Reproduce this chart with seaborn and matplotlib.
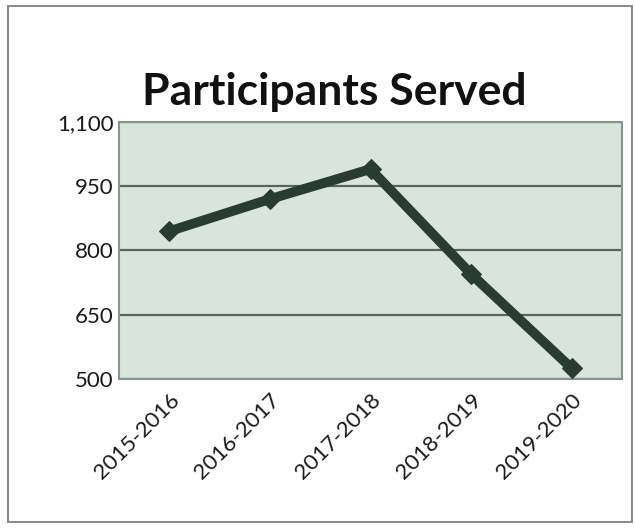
import matplotlib
matplotlib.use("Agg")
import matplotlib.pyplot as plt
import matplotlib.patches as mpatches
from matplotlib.ticker import FuncFormatter
import seaborn as sns
import pandas as pd

# Participants served per program year
years = ["2015-2016", "2016-2017", "2017-2018", "2018-2019", "2019-2020"]
participants = [845, 920, 990, 745, 525]
y_ticks = [500, 650, 800, 950, 1100]

df = pd.DataFrame({"year": years, "participants": participants})

sns.set_theme(style="white")
plt.rcParams["font.family"] = ["Lato", "DejaVu Sans"]

fig = plt.figure(figsize=(6.35, 5.29), dpi=100)
ax = fig.add_axes([119 / 635, 1 - 379 / 529, (622 - 119) / 635, (379 - 122) / 529])

ax.set_facecolor("#d7e5de")
sns.lineplot(data=df, x="year", y="participants", ax=ax, sort=False,
             color="#2a3b32", linewidth=7, marker="D", markersize=10,
             markeredgecolor="#2a3b32", zorder=3)

ax.set_xlim(-0.5, len(years) - 0.5)
ax.set_ylim(y_ticks[0], y_ticks[-1])
ax.set_yticks(y_ticks)
ax.yaxis.set_major_formatter(FuncFormatter(lambda v, _: f"{int(v):,}"))
ax.grid(axis="y", color="#56665c", linewidth=1.6)
ax.grid(axis="x", visible=False)
ax.set_xlabel("")
ax.set_ylabel("")
ax.tick_params(axis="both", length=0, labelsize=16, colors="#1a1a1a")
ax.tick_params(axis="y", pad=4)
ax.tick_params(axis="x", pad=8)
for lbl in ax.get_xticklabels():
    lbl.set_rotation(45)
    lbl.set_ha("right")
    lbl.set_rotation_mode("anchor")
for s in ax.spines.values():
    s.set_color("#8a948e")
    s.set_linewidth(1.5)

fig.text(0.526, 1 - 92 / 529, "Participants Served", ha="center", va="center",
         fontsize=32, fontweight="bold", color="#111111")

# Outer chart frame
fig.patches.append(mpatches.Rectangle((8 / 635, 1 - 522 / 529), 624 / 635, 516 / 529,
                                      transform=fig.transFigure, fill=False,
                                      edgecolor="#8c8c8c", linewidth=1.5))

fig.savefig("out.png", dpi=100)
